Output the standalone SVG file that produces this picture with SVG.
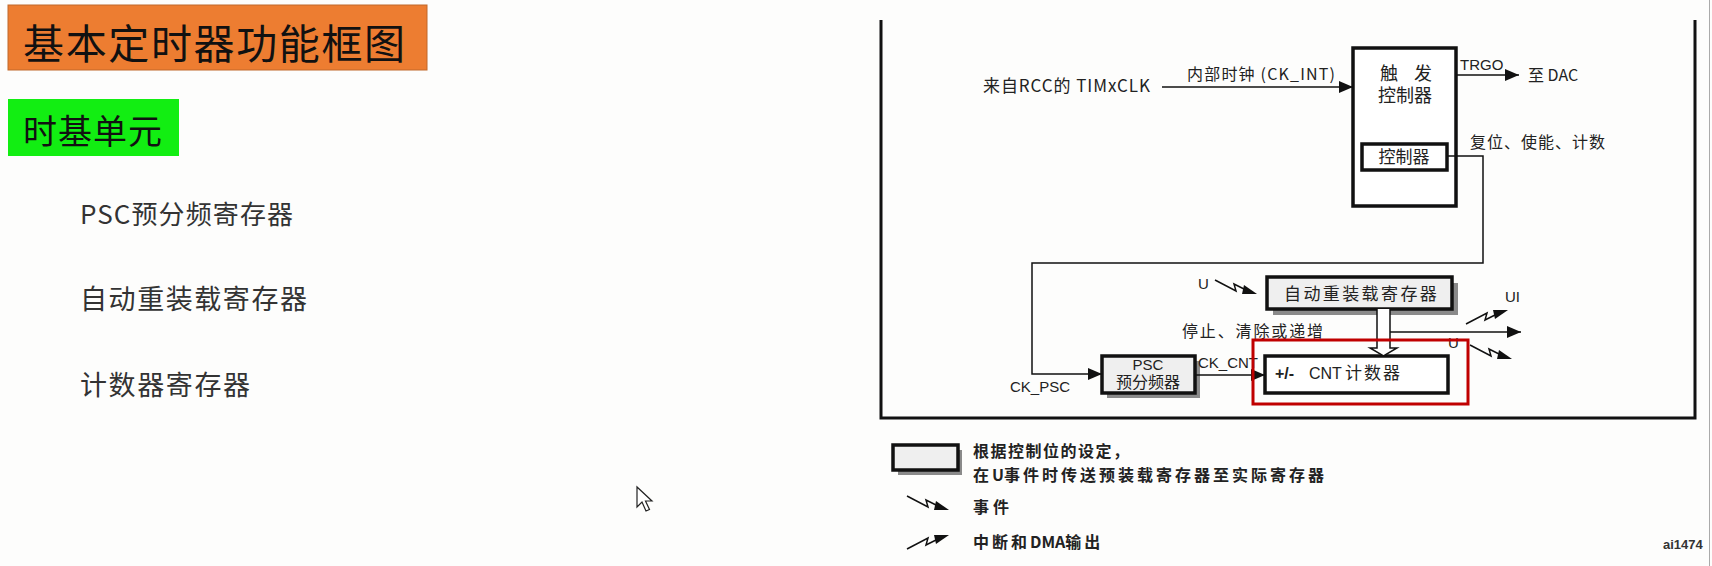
<svg xmlns="http://www.w3.org/2000/svg" width="1712" height="566" viewBox="0 0 1712 566">
<style>
.cj{font-family:"Noto Sans CJK SC","Liberation Sans",sans-serif;fill:#222}
.lt{font-family:"Liberation Sans","Noto Sans CJK SC",sans-serif;fill:#222}
.ln{fill:none;stroke:#111;stroke-width:1.5}
.box{fill:#fff;stroke:#111;stroke-width:3.5}
.gbox{fill:#efefef;stroke:#111;stroke-width:3.5}
.shadow{fill:#8a8a8a}
</style>
<defs>
<marker id="ah" markerUnits="userSpaceOnUse" markerWidth="14" markerHeight="12" refX="14" refY="6" orient="auto">
<path d="M0,0 L14,6 L0,12 Z" fill="#111"/>
</marker>
<g id="evt">
<path d="M0,0 L21,11 L19,4 L33,11" fill="none" stroke="#111" stroke-width="1.5"/>
<path d="M29,5 L42,14 L27,14 Z" fill="#111"/>
</g>
<g id="irq">
<path d="M0,0 L21,-11 L19,-4 L33,-11" fill="none" stroke="#111" stroke-width="1.5"/>
<path d="M29,-5 L42,-14 L27,-14 Z" fill="#111"/>
</g>
</defs>
<rect width="1712" height="566" fill="#fdfdfc"/>
<line x1="1709.5" y1="0" x2="1709.5" y2="566" stroke="#aaa" stroke-width="1"/>

<g id="title">
<rect x="8" y="5" width="419" height="65" fill="#ed7d31" stroke="#c0692a" stroke-width="1"/>
<text x="23" y="59" class="cj" style="font-size:41px;fill:#111" textLength="382">基本定时器功能框图</text>
</g>
<g id="subtitle">
<rect x="8" y="99" width="171" height="57" fill="#12ee12"/>
<text x="23" y="144" class="cj" style="font-size:34px;fill:#111" textLength="139">时基单元</text>
</g>
<g id="list">
<text x="80" y="224" class="cj" style="font-size:26px;fill:#333" textLength="213">PSC预分频寄存器</text>
<text x="80" y="309" class="cj" style="font-size:27px;fill:#333" textLength="227">自动重装载寄存器</text>
<text x="80" y="395" class="cj" style="font-size:27px;fill:#333" textLength="170">计数器寄存器</text>
</g>

<g id="frame">
<path d="M881,20 V418 H1695 V20" fill="none" stroke="#111" stroke-width="3"/>
</g>

<g id="trigger">
<rect x="1353" y="48" width="103" height="158" class="box"/>
<text x="1409" y="80" class="cj" style="font-size:18px" text-anchor="middle" letter-spacing="6">触 发</text>
<text x="1405" y="102" class="cj" style="font-size:18px" text-anchor="middle">控制器</text>
<rect x="1362" y="144" width="85" height="26" class="box" stroke-width="3"/>
<text x="1404" y="163" class="cj" style="font-size:17px" text-anchor="middle">控制器</text>
</g>

<g id="psc">
<rect x="1107" y="361" width="93" height="37" class="shadow"/>
<rect x="1102" y="356" width="93" height="37" class="gbox"/>
<text x="1148" y="370" class="lt" style="font-size:15px" text-anchor="middle">PSC</text>
<text x="1148" y="388" class="cj" style="font-size:16px" text-anchor="middle">预分频器</text>
</g>

<g id="arr">
<rect x="1273" y="283" width="185" height="32" class="shadow"/>
<rect x="1267" y="277" width="185" height="32" class="gbox"/>
<text x="1284" y="300" class="cj" style="font-size:17px" letter-spacing="2.4">自动重装载寄存器</text>
</g>

<g id="cnt">
<rect x="1265" y="356" width="183" height="37" class="box"/>
<text x="1275" y="379" class="lt" style="font-size:16px;font-weight:bold">+/-</text>
<text x="1309" y="379" class="lt" style="font-size:16px">CNT</text>
<text x="1345" y="379" class="cj" style="font-size:17px" letter-spacing="2">计数器</text>
</g>

<g id="connectors">
<path d="M1162,87 H1353" class="ln" marker-end="url(#ah)"/>
<path d="M1456,75 H1519" class="ln" marker-end="url(#ah)"/>
<path d="M1447,156 H1483 V263 H1032 V374 H1102" class="ln" marker-end="url(#ah)"/>
<path d="M1195,375 H1265" class="ln" marker-end="url(#ah)"/>
<path d="M1377,309 V348 H1370 L1383.5,356 L1397,348 H1390 V309" fill="#fff" stroke="#111" stroke-width="1.5"/>
<path d="M1390,332 H1521" class="ln" marker-end="url(#ah)"/>
<use href="#evt" x="1215" y="280"/>
<use href="#irq" x="1466" y="324"/>
<use href="#evt" x="1470" y="345"/>
</g>

<g id="labels">
<text x="983" y="92" class="cj" style="font-size:17px" textLength="167">来自RCC的 TIMxCLK</text>
<text x="1187" y="80" class="cj" style="font-size:16px" textLength="148">内部时钟 (CK_INT)</text>
<text x="1460" y="70" class="lt" style="font-size:15px">TRGO</text>
<text x="1528" y="81" class="cj" style="font-size:16px">至 DAC</text>
<text x="1470" y="148" class="cj" style="font-size:16px" textLength="135">复位、使能、计数</text>
<text x="1010" y="392" class="lt" style="font-size:15px">CK_PSC</text>
<text x="1198" y="368" class="lt" style="font-size:15px">CK_CNT</text>
<text x="1198" y="289" class="lt" style="font-size:15px">U</text>
<text x="1182" y="337" class="cj" style="font-size:16px" textLength="141">停止、清除或递增</text>
<text x="1505" y="302" class="lt" style="font-size:15px">UI</text>
<text x="1448" y="348" class="lt" style="font-size:15px">U</text>
</g>

<rect x="1253" y="340" width="215" height="64" fill="none" stroke="#c00000" stroke-width="3"/>

<g id="legend">
<rect x="898" y="450" width="64" height="25" class="shadow"/>
<rect x="893" y="445" width="65" height="25" class="gbox"/>
<text x="973" y="457" class="cj" style="font-size:16px;font-weight:bold" letter-spacing="1.5">根据控制位的设定，</text>
<text x="973" y="481" class="cj" style="font-size:16px;font-weight:bold" letter-spacing="3"><tspan>在</tspan><tspan letter-spacing="0">U</tspan><tspan>事件时传送预装载寄存器至实际寄存器</tspan></text>
<use href="#evt" x="907" y="496"/>
<text x="973" y="513" class="cj" style="font-size:16px;font-weight:bold" letter-spacing="4">事件</text>
<use href="#irq" x="907" y="549"/>
<text x="973" y="548" class="cj" style="font-size:16px;font-weight:bold"><tspan letter-spacing="3">中断和</tspan><tspan>DMA</tspan><tspan letter-spacing="3">输出</tspan></text>
</g>

<text x="1663" y="549" class="lt" style="font-size:13px;font-weight:bold;fill:#333">ai1474</text>

<path d="M637,487 L637,507 L642,502 L646,511 L649.5,509.5 L645.5,501 L652,501 Z" fill="#fff" stroke="#222" stroke-width="1.2"/>
</svg>
